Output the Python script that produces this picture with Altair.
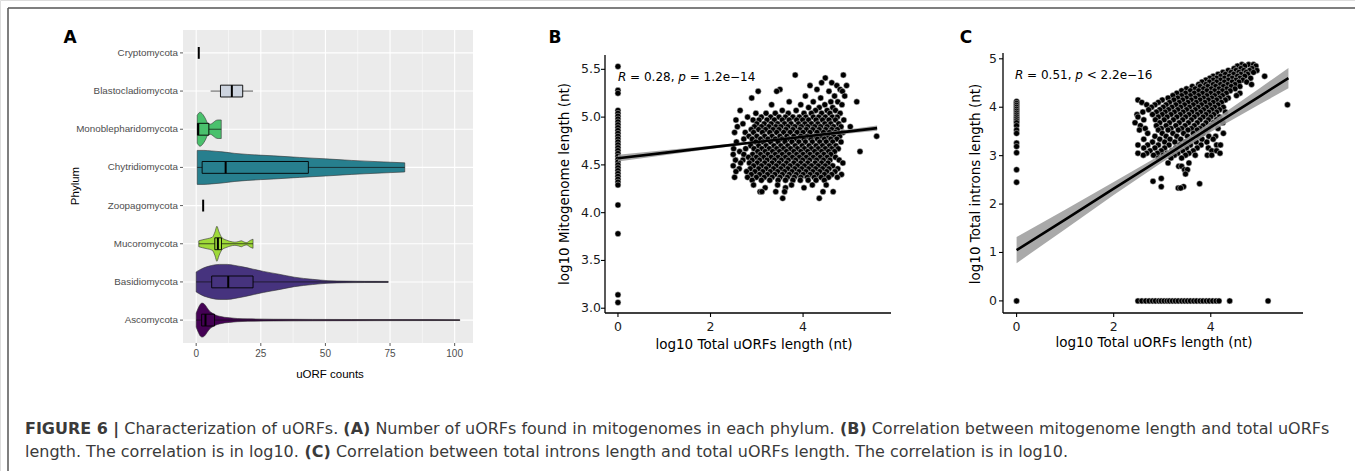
import altair as alt
import pandas as pd

# ---------------- Panel A data ----------------
phyla = ["Cryptomycota", "Blastocladiomycota", "Monoblepharidomycota", "Chytridiomycota",
         "Zoopagomycota", "Mucoromycota", "Basidiomycota", "Ascomycota"]
phylum_colors = ["#1FA187", "#365C8D", "#4AC16D", "#277F8E", "#FDE725", "#9FDA3A", "#46337E", "#440154"]
box_fills = ["#1FA187", "#cdd4df", "#4AC16D", "#277F8E", "#FDE725", "#9FDA3A", "#46337E", "#440154"]
box_min = [1.0, 5.6, 0.4, 0.4, 2.7, 1.0, 0.0, 0.0]
box_q1 = [1.0, 9.4, 0.5, 2.3, 2.7, 7.2, 6.0, 2.1]
box_med = [1.0, 13.8, 0.8, 11.4, 2.7, 8.4, 12.4, 3.6]
box_q3 = [1.0, 18.0, 4.9, 43.4, 2.7, 9.8, 22.0, 7.1]
box_max = [1.0, 22.0, 9.7, 80.7, 2.7, 22.0, 74.3, 102.0]

# violin outlines: uORF count vs relative density (1 = widest)
mono_x = [0.4, 1.5, 2.5, 3.5, 4.5, 5.5, 6.5, 7.5, 8.5, 9.7]
mono_d = [0.80, 0.97, 0.86, 0.63, 0.34, 0.29, 0.37, 0.49, 0.53, 0.53]
chyt_x = [0.4, 3, 6, 10, 15, 20, 30, 40, 50, 60, 70, 80.7]
chyt_d = [0.97, 0.97, 0.94, 0.89, 0.80, 0.74, 0.66, 0.57, 0.49, 0.40, 0.33, 0.26]
muco_x = [1, 2.5, 4.3, 6.2, 7.3, 8.0, 8.8, 10, 11.5, 13, 15, 16.5, 17.5, 18.5, 19.5, 21, 22]
muco_d = [0.17, 0.23, 0.29, 0.37, 0.69, 1.0, 0.69, 0.34, 0.22, 0.14, 0.09, 0.13, 0.17, 0.10, 0.07, 0.20, 0.26]
basi_x = [0, 2, 4, 6, 9, 12, 15, 18, 22, 26, 32, 38, 45, 51, 58, 65, 74.3]
basi_d = [0.57, 0.74, 0.86, 0.94, 1.0, 1.0, 0.94, 0.86, 0.73, 0.60, 0.44, 0.27, 0.15, 0.074, 0.046, 0.034, 0.029]
asco_x = [0, 0.8, 1.6, 2.3, 3.2, 4.2, 5.2, 6.2, 7.5, 9, 11, 13, 16, 20, 30, 45, 60, 80, 102]
asco_d = [0.40, 0.69, 0.91, 0.97, 0.91, 0.71, 0.51, 0.40, 0.29, 0.22, 0.16, 0.13, 0.09, 0.07,
          0.05, 0.04, 0.034, 0.029, 0.023]

a_xticks = [0, 25, 50, 75, 100]
a_xminor = [12.5, 37.5, 62.5, 87.5]

# ---------------- Panel B data ----------------
b_col_y = [5.53, 5.28, 5.25, 5.07, 5.04, 5.01, 4.98, 4.95, 4.92, 4.89, 4.86, 4.83, 4.80, 4.77, 4.74,
           4.71, 4.68, 4.65, 4.62, 4.59, 4.56, 4.53, 4.50, 4.47, 4.44, 4.41, 4.38, 4.35, 4.32, 4.29,
           4.08, 3.78, 3.14, 3.06]
b_band_y = [5.44, 5.41, 5.36, 5.33, 5.29, 5.27, 5.22, 5.20, 5.16, 5.13, 5.10, 5.07, 5.04, 5.00, 4.97,
            4.93, 4.90, 4.87, 4.84, 4.80, 4.77, 4.74, 4.70, 4.67, 4.64, 4.61, 4.58, 4.55, 4.52, 4.49,
            4.46, 4.43, 4.40, 4.37, 4.34, 4.29, 4.26, 4.22, 4.15]
b_band_x = [
    [3.83, 4.87],
    [4.48],
    [4.40, 4.62],
    [4.15, 4.73, 4.94],
    [3.50, 4.30, 4.80],
    [3.03, 3.43, 4.56, 4.85],
    [4.05, 4.68, 4.90],
    [2.89, 4.38],
    [3.70, 4.22, 4.60, 4.75, 5.16],
    [3.32, 3.95, 4.47, 4.84],
    [4.12, 4.35, 4.64],
    [2.64, 3.55, 3.85, 4.27, 4.52, 4.70],
    [2.98, 3.20, 3.40, 3.68, 4.02, 4.18, 4.40, 4.58, 4.80],
    [2.80, 3.10, 3.30, 3.48, 3.62, 3.78, 3.92, 4.06, 4.22, 4.34, 4.48, 4.63, 4.74],
    [2.55, 2.92, 3.05, 3.22, 3.38, 3.55, 3.70, 3.86, 3.99, 4.12, 4.28, 4.42, 4.56, 4.70, 4.88],
    [2.70, 3.00, 3.16, 3.31, 3.45, 3.60, 3.74, 3.90, 4.04, 4.18, 4.32, 4.47, 4.60, 4.77],
    [2.58, 2.95, 3.10, 3.26, 3.41, 3.52, 3.67, 3.82, 3.96, 4.10, 4.25, 4.38, 4.52, 4.66, 4.82, 5.02],
    [2.88, 3.04, 3.19, 3.35, 3.48, 3.63, 3.78, 3.93, 4.07, 4.21, 4.35, 4.49, 4.62, 4.74],
    [2.52, 2.75, 2.93, 3.12, 3.28, 3.43, 3.58, 3.72, 3.87, 4.00, 4.15, 4.30, 4.44, 4.57, 4.70, 4.86],
    [2.83, 3.00, 3.17, 3.33, 3.50, 3.65, 3.80, 3.95, 4.09, 4.24, 4.38, 4.53, 4.66, 4.79, 5.59],
    [2.72, 2.90, 3.08, 3.24, 3.40, 3.55, 3.70, 3.85, 4.02, 4.17, 4.31, 4.46, 4.60, 4.73],
    [2.56, 2.98, 3.14, 3.30, 3.46, 3.61, 3.76, 3.91, 4.05, 4.20, 4.36, 4.50, 4.64, 4.82],
    [2.87, 3.04, 3.20, 3.37, 3.52, 3.67, 3.83, 3.98, 4.13, 4.28, 4.42, 4.57, 4.71],
    [2.50, 2.76, 2.94, 3.11, 3.27, 3.43, 3.58, 3.73, 3.88, 4.03, 4.18, 4.33, 4.48, 4.62, 4.76],
    [2.63, 3.02, 3.18, 3.34, 3.49, 3.64, 3.80, 3.95, 4.10, 4.25, 4.40, 4.55, 4.68, 5.23],
    [2.49, 2.72, 2.91, 3.08, 3.24, 3.40, 3.55, 3.70, 3.86, 4.00, 4.15, 4.31, 4.45, 4.60],
    [2.82, 2.99, 3.15, 3.31, 3.46, 3.62, 3.77, 3.92, 4.07, 4.22, 4.37, 4.52, 4.70],
    [2.54, 2.70, 2.90, 3.06, 3.22, 3.38, 3.53, 3.68, 3.84, 3.99, 4.14, 4.29, 4.44, 4.58, 4.78],
    [2.65, 2.84, 3.01, 3.17, 3.33, 3.48, 3.64, 3.80, 3.95, 4.10, 4.26, 4.40, 4.54, 4.86],
    [2.49, 2.93, 3.10, 3.26, 3.42, 3.57, 3.72, 3.88, 4.03, 4.18, 4.33, 4.48, 4.64],
    [2.62, 2.86, 3.04, 3.20, 3.36, 3.52, 3.67, 3.82, 3.97, 4.12, 4.27, 4.42, 4.56, 4.75],
    [2.55, 2.78, 2.96, 3.13, 3.29, 3.45, 3.60, 3.76, 3.91, 4.06, 4.21, 4.36, 4.51, 4.69],
    [2.88, 3.06, 3.23, 3.39, 3.55, 3.70, 3.85, 4.00, 4.15, 4.30, 4.46, 4.62, 4.83],
    [2.52, 2.80, 2.99, 3.16, 3.33, 3.50, 3.66, 3.81, 3.95, 4.09, 4.24, 4.39, 4.55, 4.74],
    [2.90, 3.10, 3.28, 3.46, 3.62, 3.78, 3.94, 4.11, 4.28, 4.46],
    [2.93, 3.45, 3.75, 4.20, 4.50],
    [3.18, 3.62, 4.02],
    [3.07, 3.11, 3.41, 3.60, 4.43, 4.65],
    [3.56, 4.35],
]
b_fit_x = [0, 1, 2, 3, 4, 5, 5.6]
b_fit_y = [4.570, 4.626, 4.683, 4.739, 4.795, 4.851, 4.885]
b_fit_se = [0.035, 0.026, 0.017, 0.012, 0.014, 0.022, 0.028]
b_xticks = [0, 2, 4]
b_yticks = [3.0, 3.5, 4.0, 4.5, 5.0, 5.5]

# ---------------- Panel C data ----------------
c_col_y = [4.12, 4.08, 4.04, 4.00, 3.96, 3.92, 3.88, 3.84, 3.80, 3.76, 3.72, 3.68, 3.62, 3.53,
           3.46, 3.26, 3.19, 3.06, 2.71, 2.45, 0.0]
c_row_x = [2.50, 2.58, 2.66, 2.73, 2.80, 2.86, 2.93, 2.98, 3.04, 3.10, 3.15, 3.21, 3.27, 3.33,
           3.40, 3.46, 3.52, 3.58, 3.65, 3.71, 3.78, 3.84, 3.91, 3.97, 4.04, 4.11, 4.17, 4.39, 5.18]
c_band_y = [4.88, 4.85, 4.80, 4.76, 4.72, 4.68, 4.64, 4.60, 4.56, 4.52, 4.47, 4.43, 4.38, 4.34,
            4.29, 4.24, 4.19, 4.15, 4.10, 4.05, 4.00, 3.95, 3.90, 3.85, 3.80, 3.74, 3.68, 3.62,
            3.56, 3.53, 3.46, 3.40, 3.34, 3.28, 3.22, 3.16, 3.10, 3.05, 3.01, 2.95, 2.85, 2.78,
            2.71, 2.62, 2.53, 2.47, 2.42, 2.36, 2.33]
c_band_x = [
    [4.64, 4.78, 4.88],
    [4.55, 4.70, 4.93],
    [4.48, 4.62, 4.85],
    [4.36, 4.52, 4.68, 4.80, 4.95],
    [4.25, 4.42, 4.58, 4.73, 4.88],
    [4.15, 4.30, 4.47, 4.62, 4.76],
    [4.05, 4.20, 4.38, 4.55, 4.70, 5.11],
    [3.98, 4.12, 4.28, 4.44, 4.60, 4.82],
    [3.90, 4.05, 4.20, 4.36, 4.52, 4.66],
    [3.82, 3.97, 4.12, 4.28, 4.44, 4.58, 4.74],
    [3.75, 3.90, 4.05, 4.20, 4.35, 4.50, 4.84],
    [3.62, 3.78, 3.94, 4.10, 4.26, 4.42, 4.60],
    [3.50, 3.68, 3.85, 4.01, 4.17, 4.33, 4.50],
    [3.40, 3.58, 3.75, 3.92, 4.08, 4.24, 4.40],
    [3.30, 3.48, 3.66, 3.83, 4.00, 4.16, 4.32, 4.60],
    [3.22, 3.40, 3.58, 3.75, 3.92, 4.08, 4.24, 4.53],
    [3.12, 3.32, 3.50, 3.68, 3.85, 4.02, 4.18, 4.36],
    [2.50, 3.00, 3.24, 3.42, 3.60, 3.78, 3.95, 4.12, 4.30],
    [2.58, 2.92, 3.15, 3.35, 3.53, 3.70, 3.88, 4.05, 4.22],
    [2.68, 2.85, 3.08, 3.28, 3.46, 3.64, 3.81, 3.98, 4.15, 5.58],
    [2.78, 3.02, 3.20, 3.38, 3.56, 3.74, 3.91, 4.08, 4.26],
    [2.72, 2.95, 3.13, 3.32, 3.50, 3.68, 3.85, 4.02, 4.18],
    [2.60, 2.88, 3.06, 3.25, 3.43, 3.61, 3.79, 3.96, 4.12, 4.30],
    [2.48, 2.80, 3.00, 3.18, 3.37, 3.55, 3.72, 3.90, 4.06],
    [2.50, 2.92, 3.10, 3.30, 3.48, 3.66, 3.84, 4.00, 4.18],
    [2.62, 2.86, 3.04, 3.23, 3.42, 3.60, 3.78, 3.95, 4.12],
    [2.44, 2.95, 3.15, 3.35, 3.54, 3.72, 3.90, 4.06, 4.25],
    [2.55, 2.88, 3.08, 3.28, 3.47, 3.66, 3.84, 4.00],
    [2.65, 2.98, 3.18, 3.40, 3.60, 3.78, 3.95, 4.15],
    [2.53, 2.92, 3.12, 3.33, 3.53, 3.72, 3.90],
    [2.70, 3.00, 3.22, 3.44, 3.64, 3.84, 4.26],
    [2.85, 3.08, 3.30, 3.52, 3.75, 3.96, 4.10],
    [2.62, 2.95, 3.16, 3.38, 3.60, 3.82, 4.05],
    [2.80, 3.05, 3.26, 3.48, 3.70, 3.92],
    [2.50, 2.70, 2.92, 3.14, 3.36, 3.58, 3.80, 4.12, 4.20],
    [2.62, 2.85, 3.05, 3.28, 3.50, 3.72, 3.95],
    [2.75, 2.98, 3.20, 3.42, 3.64, 4.02, 4.12],
    [2.50, 2.68, 2.90, 3.10, 3.32, 3.55, 4.19],
    [2.61, 2.82, 3.02, 3.25, 3.48, 3.68, 3.93, 4.02],
    [2.92, 3.18, 3.40],
    [3.12, 3.55],
    [3.34, 3.40],
    [3.46, 3.52],
    [3.48],
    [2.98],
    [2.81],
    [3.77],
    [2.98, 3.44],
    [3.33, 3.38],
]
c_fit_x = [0, 1, 2, 3, 4, 5, 5.6]
c_fit_y = [1.05, 1.68, 2.32, 2.95, 3.59, 4.22, 4.60]
c_fit_se = [0.27, 0.20, 0.135, 0.085, 0.10, 0.165, 0.21]
c_xticks = [0, 2, 4]
c_yticks = [0, 1, 2, 3, 4, 5]

caption_line1 = ["FIGURE 6 |", "Characterization of uORFs.", "(A)",
                 "Number of uORFs found in mitogenomes in each phylum.", "(B)",
                 "Correlation between mitogenome length and total uORFs"]
caption_line1_bold = [True, False, True, False, True, False]
caption_line2 = ["length. The correlation is in log10.", "(C)",
                 "Correlation between total introns length and total uORFs length. The correlation is in log10."]
caption_line2_bold = [False, True, False]

# ---------------- layout (pixels) ----------------
FA = "Liberation Sans"
FB = "DejaVu Sans"

# DejaVu Sans advance widths (em) used to chain caption pieces
W_REG = {" ": .318, "a": .613, "b": .635, "c": .550, "d": .635, "e": .615, "f": .352, "g": .635,
         "h": .634, "i": .278, "l": .278, "m": .974, "n": .634, "o": .612, "p": .635, "r": .411,
         "s": .521, "t": .392, "u": .634, "w": .818, "y": .592, "z": .525, "C": .698, "F": .575,
         "N": .748, "O": .787, "R": .695, "T": .611, ".": .318, ",": .318, "0": .636, "1": .636,
         "(": .390, ")": .390}
W_BOLD = {" ": .348, "F": .683, "I": .372, "G": .821, "U": .812, "R": .770, "E": .683, "6": .696,
          "|": .366, "(": .457, ")": .457, "A": .774, "B": .762, "C": .734}


def em_width(s, bold):
    tbl = W_BOLD if bold else W_REG
    return sum(tbl.get(ch, 0.6) for ch in s)


line1_em = sum(em_width(s, b) for s, b in zip(caption_line1, caption_line1_bold)) + \
    W_REG[" "] * (len(caption_line1) - 1)
CAP_SIZE = 1305.0 / line1_em


def chain(parts, bolds, x0):
    xs, x = [], x0
    for s, b in zip(parts, bolds):
        xs.append(x)
        x += em_width(s, b) * CAP_SIZE + W_REG[" "] * CAP_SIZE
    return xs


cap1_x = chain(caption_line1, caption_line1_bold, 25)
cap2_x = chain(caption_line2, caption_line2_bold, 25)

xA = alt.Scale(domain=[-5.1, 107.1], range=[183, 473], nice=False, zero=False)
yA = alt.Scale(domain=[-0.6, 7.6], range=[30, 343], nice=False, zero=False)
xB = alt.Scale(domain=[-0.28, 5.9], range=[605, 891], nice=False, zero=False)
yB = alt.Scale(domain=[2.95, 5.65], range=[313, 55], nice=False, zero=False)
xC = alt.Scale(domain=[-0.28, 5.9], range=[1003, 1303], nice=False, zero=False)
yC = alt.Scale(domain=[-0.25, 5.12], range=[313, 53], nice=False, zero=False)

one = pd.DataFrame({"a": [1]})


def txt(text, x, y, font=FB, size=12, **kw):
    return alt.Chart(pd.DataFrame({"t": [text]})).mark_text(
        font=font, fontSize=size, **kw).encode(x=alt.value(x), y=alt.value(y), text="t:N")


layers = []

# outer frame
layers.append(alt.Chart(one).mark_rule(color="#555555", strokeWidth=1.5).encode(
    x=alt.value(8), x2=alt.value(1355), y=alt.value(8)))
layers.append(alt.Chart(one).mark_rule(color="#555555", strokeWidth=1.5).encode(
    x=alt.value(8), y=alt.value(8), y2=alt.value(471)))

# ======== Panel A ========
layers.append(alt.Chart(one).mark_rect(color="#EBEBEB").encode(
    x=alt.value(183), x2=alt.value(473), y=alt.value(30), y2=alt.value(343)))
layers.append(alt.Chart(pd.DataFrame({"v": a_xminor})).mark_rule(color="white", strokeWidth=0.5).encode(
    x=alt.X("v:Q", scale=xA, axis=None), y=alt.value(30), y2=alt.value(343)))
layers.append(alt.Chart(pd.DataFrame({"v": a_xticks})).mark_rule(color="white", strokeWidth=1.1).encode(
    x=alt.X("v:Q", scale=xA, axis=None), y=alt.value(30), y2=alt.value(343)))
phy_df = pd.DataFrame({"phylum": phyla, "idx": list(range(len(phyla))),
                       "mn": box_min, "q1": box_q1, "med": box_med, "q3": box_q3, "mx": box_max})
layers.append(alt.Chart(phy_df).mark_rule(color="white", strokeWidth=1.1).encode(
    y=alt.Y("idx:Q", scale=yA, axis=None), x=alt.value(183), x2=alt.value(473)))

vrows = []
for name, xs, ds in [("Monoblepharidomycota", mono_x, mono_d), ("Chytridiomycota", chyt_x, chyt_d),
                     ("Mucoromycota", muco_x, muco_d), ("Basidiomycota", basi_x, basi_d),
                     ("Ascomycota", asco_x, asco_d)]:
    for xv, dv in zip(xs, ds):
        vrows.append({"phylum": name, "idx": phyla.index(name), "x": xv, "d": dv})
vdf = pd.DataFrame(vrows)
layers.append(alt.Chart(vdf).transform_calculate(
    yt="datum.idx - datum.d*0.459", yb="datum.idx + datum.d*0.459"
).mark_area(stroke="#333333", strokeWidth=0.6, interpolate="monotone", opacity=1).encode(
    x=alt.X("x:Q", scale=xA, axis=None),
    y=alt.Y("yt:Q", scale=yA, axis=None), y2="yb:Q",
    color=alt.Color("phylum:N", scale=alt.Scale(domain=phyla, range=phylum_colors), legend=None),
    detail="phylum:N"))

# whiskers
layers.append(alt.Chart(phy_df).transform_filter("datum.mx > datum.mn").mark_rule(
    color="#111111", strokeWidth=0.7).encode(
    x=alt.X("mn:Q", scale=xA, axis=None), x2="mx:Q", y=alt.Y("idx:Q", scale=yA, axis=None)))
# boxes
layers.append(alt.Chart(phy_df).transform_filter("datum.q3 > datum.q1").transform_calculate(
    bt="datum.idx - 0.155", bb="datum.idx + 0.155").mark_rect(stroke="black", strokeWidth=0.9).encode(
    x=alt.X("q1:Q", scale=xA, axis=None), x2="q3:Q",
    y=alt.Y("bt:Q", scale=yA, axis=None), y2="bb:Q",
    fill=alt.Fill("phylum:N", scale=alt.Scale(domain=phyla, range=box_fills), legend=None)))
# medians
layers.append(alt.Chart(phy_df).transform_calculate(
    bt="datum.idx - 0.155", bb="datum.idx + 0.155").mark_rule(color="black", strokeWidth=2).encode(
    x=alt.X("med:Q", scale=xA, axis=None),
    y=alt.Y("bt:Q", scale=yA, axis=None), y2="bb:Q"))

# axes A
layers.append(alt.Chart(pd.DataFrame({"v": a_xticks})).mark_rule(color="#333333", strokeWidth=0.8).encode(
    x=alt.X("v:Q", scale=xA, axis=None), y=alt.value(343), y2=alt.value(346)))
layers.append(alt.Chart(pd.DataFrame({"v": a_xticks, "t": [str(v) for v in a_xticks]})).mark_text(
    font=FA, fontSize=10, color="#4D4D4D", baseline="middle").encode(
    x=alt.X("v:Q", scale=xA, axis=None), y=alt.value(353.5), text="t:N"))
layers.append(alt.Chart(phy_df).mark_rule(color="#333333", strokeWidth=0.8).encode(
    y=alt.Y("idx:Q", scale=yA, axis=None), x=alt.value(180), x2=alt.value(183)))
layers.append(alt.Chart(phy_df).mark_text(
    font=FA, fontSize=9.8, color="#4D4D4D", baseline="middle", align="right").encode(
    y=alt.Y("idx:Q", scale=yA, axis=None), x=alt.value(178), text="phylum:N"))
layers.append(txt("uORF counts", 330, 375, font=FA, size=11.5, color="black", baseline="middle"))
layers.append(txt("Phylum", 76, 186, font=FA, size=11.5, color="black", baseline="middle", angle=270))
layers.append(txt("A", 70, 38, font=FB, size=17, fontWeight="bold", color="black", baseline="middle"))


# ======== Panels B & C (scatter + fit) ========
def scatter_panel(xs, ys, fx, fy, fse, xticks, yticks, xsc, ysc, x0, x1, y0, y1,
                  ylab_x, xtitle_pos, ytitle_pos, ytitle, letter_pos, letter, stat_parts, stat_y, yfmt):
    out = []
    pts = pd.DataFrame({"x": xs, "y": ys})
    out.append(alt.Chart(pts).mark_point(shape="circle", filled=True, fill="black", stroke="#d0d0d0",
                                         strokeWidth=0.5, size=36, opacity=1).encode(
        x=alt.X("x:Q", scale=xsc, axis=None), y=alt.Y("y:Q", scale=ysc, axis=None)))
    fit = pd.DataFrame({"x": fx, "y": fy, "se": fse})
    out.append(alt.Chart(fit).transform_calculate(lo="datum.y - datum.se", hi="datum.y + datum.se").mark_area(
        color="#9a9a9a", opacity=0.85).encode(
        x=alt.X("x:Q", scale=xsc, axis=None), y=alt.Y("lo:Q", scale=ysc, axis=None), y2="hi:Q"))
    out.append(alt.Chart(fit).mark_line(color="black", strokeWidth=2.6).encode(
        x=alt.X("x:Q", scale=xsc, axis=None), y=alt.Y("y:Q", scale=ysc, axis=None)))
    # axis lines
    out.append(alt.Chart(one).mark_rule(color="black", strokeWidth=1.3).encode(
        x=alt.value(x0), y=alt.value(y0), y2=alt.value(y1)))
    out.append(alt.Chart(one).mark_rule(color="black", strokeWidth=1.3).encode(
        x=alt.value(x0), x2=alt.value(x1), y=alt.value(y1)))
    # ticks
    out.append(alt.Chart(pd.DataFrame({"v": xticks})).mark_rule(color="black", strokeWidth=1.1).encode(
        x=alt.X("v:Q", scale=xsc, axis=None), y=alt.value(y1), y2=alt.value(y1 + 4)))
    out.append(alt.Chart(pd.DataFrame({"v": yticks})).mark_rule(color="black", strokeWidth=1.1).encode(
        y=alt.Y("v:Q", scale=ysc, axis=None), x=alt.value(x0 - 4), x2=alt.value(x0)))
    out.append(alt.Chart(pd.DataFrame({"v": xticks, "t": [str(v) for v in xticks]})).mark_text(
        font=FB, fontSize=12.5, color="#1a1a1a", baseline="middle").encode(
        x=alt.X("v:Q", scale=xsc, axis=None), y=alt.value(y1 + 13.5), text="t:N"))
    out.append(alt.Chart(pd.DataFrame({"v": yticks, "t": [yfmt(v) for v in yticks]})).mark_text(
        font=FB, fontSize=12.5, color="#1a1a1a", baseline="middle", align="right").encode(
        y=alt.Y("v:Q", scale=ysc, axis=None), x=alt.value(ylab_x), text="t:N"))
    out.append(txt("log10 Total uORFs length (nt)", xtitle_pos[0], xtitle_pos[1], size=13.5,
                   color="black", baseline="middle"))
    out.append(txt(ytitle, ytitle_pos[0], ytitle_pos[1], size=13.5, color="black", baseline="middle",
                   angle=270))
    out.append(txt(letter, letter_pos[0], letter_pos[1], size=17, fontWeight="bold", color="black",
                   baseline="middle"))
    for (s, italic, xp) in stat_parts:
        kw = {"fontStyle": "italic"} if italic else {}
        out.append(txt(s, xp, stat_y, size=12, color="black", baseline="middle", align="left", **kw))
    return out


bx = [0.0] * len(b_col_y)
by = list(b_col_y)
for yv, xsr in zip(b_band_y, b_band_x):
    for xv in xsr:
        bx.append(xv)
        by.append(yv)

cx = [0.0] * len(c_col_y) + list(c_row_x)
cy = list(c_col_y) + [0.0] * len(c_row_x)
for yv, xsr in zip(c_band_y, c_band_x):
    for xv in xsr:
        cx.append(xv)
        cy.append(yv)

layers += scatter_panel(bx, by, b_fit_x, b_fit_y, b_fit_se, b_xticks, b_yticks, xB, yB,
                        605, 891, 55, 313, 601, (754, 345), (565, 184),
                        "log10 Mitogenome length (nt)", (555, 38), "B",
                        [("R", True, 618), ("= 0.28,", False, 630.1), ("p", True, 678.3),
                         ("= 1.2e\u221214", False, 689.7)], 77, lambda v: f"{v:.1f}")
layers += scatter_panel(cx, cy, c_fit_x, c_fit_y, c_fit_se, c_xticks, c_yticks, xC, yC,
                        1003, 1303, 53, 313, 997, (1154, 343), (976, 184),
                        "log10 Total introns length (nt)", (966, 38), "C",
                        [("R", True, 1015), ("= 0.51,", False, 1027.1), ("p", True, 1075.3),
                         ("< 2.2e\u221216", False, 1086.7)], 75, lambda v: f"{v:d}")

# ======== caption ========
for s, b, xp in zip(caption_line1, caption_line1_bold, cap1_x):
    layers.append(txt(s, xp, 434, size=CAP_SIZE, color="#3a3a3a", align="left", baseline="alphabetic",
                      fontWeight=("bold" if b else "normal")))
for s, b, xp in zip(caption_line2, caption_line2_bold, cap2_x):
    layers.append(txt(s, xp, 457, size=CAP_SIZE, color="#3a3a3a", align="left", baseline="alphabetic",
                      fontWeight=("bold" if b else "normal")))

chart = alt.layer(*layers).resolve_scale(
    x="independent", y="independent", color="independent", fill="independent"
).properties(
    width=1355, height=471, autosize=alt.AutoSizeParams(type="none"), padding=0
).configure_view(strokeWidth=0).configure(background="white")

chart.save("out.html", embed_options={"renderer": "svg", "actions": False})
